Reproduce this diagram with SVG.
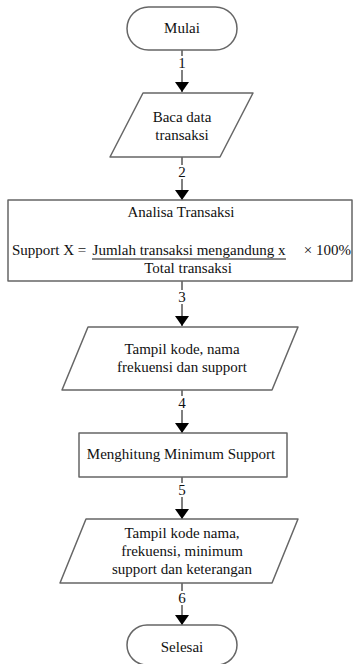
<svg xmlns="http://www.w3.org/2000/svg" width="353" height="664" viewBox="0 0 353 664">
<style>
.s{fill:#fff;stroke:#666;stroke-width:1.5;stroke-linejoin:round}
.t{font-family:"Liberation Serif","Times New Roman",serif;font-size:15px;fill:#111;text-anchor:middle}
.c{stroke:#000;stroke-width:1;fill:none}
.l{font-family:"Liberation Serif","Times New Roman",serif;font-size:15px;fill:#111;text-anchor:middle}
</style>
<defs>
<marker id="ah" markerWidth="10" markerHeight="14" refX="10" refY="7" orient="auto" markerUnits="userSpaceOnUse">
<path d="M0,0 L10,7 L0,14 Z" fill="#000"/>
</marker>
</defs>
<rect width="353" height="664" fill="#fff"/>
<g id="connectors">
<line class="c" x1="182" y1="50" x2="182" y2="92" marker-end="url(#ah)"/>
<line class="c" x1="182" y1="157" x2="182" y2="200" marker-end="url(#ah)"/>
<line class="c" x1="182" y1="281" x2="182" y2="326" marker-end="url(#ah)"/>
<line class="c" x1="182" y1="390" x2="182" y2="433" marker-end="url(#ah)"/>
<line class="c" x1="182" y1="477" x2="182" y2="519" marker-end="url(#ah)"/>
<line class="c" x1="182" y1="583" x2="182" y2="625" marker-end="url(#ah)"/>
<g fill="#fff">
<rect x="177" y="56" width="10" height="14"/>
<rect x="177" y="165" width="10" height="14"/>
<rect x="177" y="290" width="10" height="14"/>
<rect x="177" y="396" width="10" height="14"/>
<rect x="177" y="483" width="10" height="14"/>
<rect x="177" y="591" width="10" height="14"/>
</g>
<text class="l" x="182" y="68">1</text>
<text class="l" x="182" y="177">2</text>
<text class="l" x="182" y="302">3</text>
<text class="l" x="182" y="408">4</text>
<text class="l" x="182" y="495">5</text>
<text class="l" x="182" y="603">6</text>
</g>
<g id="mulai">
<rect class="s" x="127" y="7" width="110" height="43" rx="21.5"/>
<text class="t" x="182" y="33">Mulai</text>
</g>
<g id="baca">
<polygon class="s" points="143,93 253,93 220,157 110,157"/>
<text class="t" x="182" y="122">Baca data</text>
<text class="t" x="182" y="140">transaksi</text>
</g>
<g id="analisa">
<rect class="s" x="8" y="200" width="344" height="81"/>
<text class="t" x="181" y="217">Analisa Transaksi</text>
<text class="t" x="12" y="255" style="text-anchor:start">Support X = </text>
<text class="t" x="189" y="255">Jumlah transaksi mengandung x</text>
<line x1="92" y1="259" x2="286" y2="259" stroke="#111" stroke-width="1"/>
<text class="t" x="351" y="255" style="text-anchor:end">× 100%</text>
<text class="t" x="188" y="273">Total transaksi</text>
</g>
<g id="tampil1">
<polygon class="s" points="88,327 298,327 272,390 62,390"/>
<text class="t" x="182" y="354">Tampil kode, nama</text>
<text class="t" x="182" y="372">frekuensi dan support</text>
</g>
<g id="hitung">
<rect class="s" x="79" y="433" width="208" height="44"/>
<text class="t" x="181" y="459">Menghitung Minimum Support</text>
</g>
<g id="tampil2">
<polygon class="s" points="86,519 298,519 272,583 60,583"/>
<text class="t" x="182" y="538">Tampil kode nama,</text>
<text class="t" x="182" y="556">frekuensi,  minimum</text>
<text class="t" x="182" y="574">support dan keterangan</text>
</g>
<g id="selesai">
<rect class="s" x="127" y="625" width="110" height="40" rx="20"/>
<text class="t" x="182" y="652">Selesai</text>
</g>
</svg>
